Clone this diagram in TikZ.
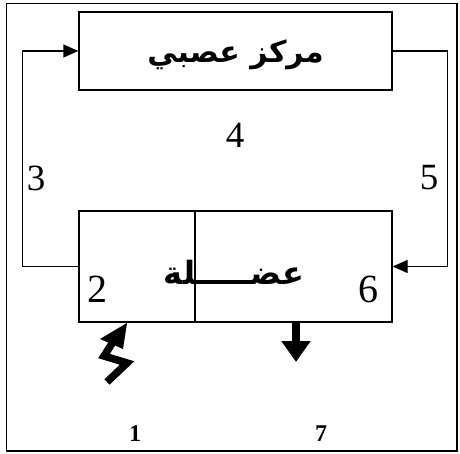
\documentclass[tikz,border=0pt]{standalone}
\usepackage{fontspec}
\setmainfont{Liberation Serif}
\newfontfamily\arabicfont[Script=Arabic]{DejaVu Sans}
\TeXXeTstate=1
\usetikzlibrary{arrows.meta}

\tikzset{boite/.style = {draw, line width=1.4pt, inner sep=0pt, minimum height=#1},
         boite/.default=78pt,
         chiffre/.style = {inner sep=0pt, font=\fontsize{37}{37}\selectfont},
         fleche/.style = {line width=1.4pt, -{Triangle[length=15pt,width=13pt]}}
        }

\begin{document}
\begin{tikzpicture}[x=1pt,y=-1pt]
\useasboundingbox (0,0) rectangle (460,454);
\draw[line width=1.4pt] (6.5,3.5) rectangle (457,451);
\node[boite, minimum width=313pt] at (235.5,51) (centre) {};
\node[font=\arabicfont\bfseries\fontsize{30}{30}\selectfont] at (235.5,55) (titre) {\beginR مركز عصبي\endR};
\node[boite=111pt, minimum width=116pt] at (137,266.5) (mg) {};
\node[boite=111pt, minimum width=197pt] at (293.5,266.5) (md) {};
\node[font=\arabicfont\bfseries\fontsize{32}{32}\selectfont] at (234,272) (muscle) {\beginR عضـــــلة\endR};
\node[chiffre] at (235,135) (n4) {4};
\node[chiffre] at (36,178) (n3) {3};
\node[chiffre] at (429,178) (n5) {5};
\node[chiffre, font=\fontsize{40}{40}\selectfont] at (97,289) (n2) {2};
\node[chiffre, font=\fontsize{40}{40}\selectfont] at (368,289) (n6) {6};
\node[chiffre, font=\bfseries\fontsize{24}{24}\selectfont] at (135,434) (n1) {1};
\node[chiffre, font=\bfseries\fontsize{24}{24}\selectfont] at (321,434) (n7) {7};
\coordinate (bas) at (296,362);
\draw[fleche] (mg.west) -- ++(-56,0) |- (centre.west);
\draw[fleche] (centre.east) -- ++(55,0) |- (md.east);
\draw[line width=8pt, -{Triangle[length=21pt,width=28pt]}] (md.south -| bas) -- (bas);
% eclair
\fill (127,323) -- (100,339) -- (123,349) -- cycle;
\draw[line width=7.5pt, miter limit=4] (113,342) -- (104,356) -- (127,363) -- (107,382);
\end{tikzpicture}
\end{document}
